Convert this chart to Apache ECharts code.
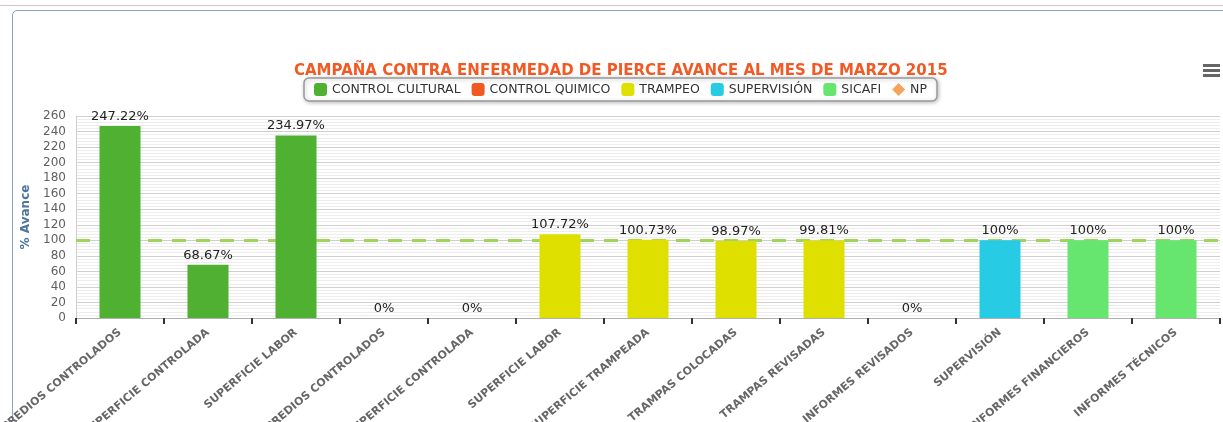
<!DOCTYPE html>
<html>
<head>
<meta charset="utf-8">
<script src="https://cdn.jsdelivr.net/npm/echarts@6/dist/echarts.min.js"></script>
<style>
html, body { margin: 0; padding: 0; background: #fff; }
.topline { position: absolute; left: 0; top: 5px; width: 1223px; height: 1px; background: #c8c8c8; }
.panel {
    position: absolute; left: 12px; top: 10px; width: 1230px; height: 440px;
    border: 1px solid #8aa2c4; border-radius: 5px; box-sizing: border-box;
}
#main { position: absolute; left: 0; top: 0; width: 1223px; height: 422px; }
</style>
</head>
<body>
<div class="topline"></div>
<div class="panel"></div>
<div id="main"></div>
<script>
// categorias del eje x
var categorias = [
    'PREDIOS CONTROLADOS', 'SUPERFICIE CONTROLADA', 'SUPERFICIE LABOR',
    'PREDIOS CONTROLADOS', 'SUPERFICIE CONTROLADA', 'SUPERFICIE LABOR',
    'SUPERFICIE TRAMPEADA', 'TRAMPAS COLOCADAS', 'TRAMPAS REVISADAS',
    'INFORMES REVISADOS', 'SUPERVISIÓN', 'INFORMES FINANCIEROS', 'INFORMES TÉCNICOS'
];
// avance por serie (null = no aplica)
var controlCultural = [247.22, 68.67, 234.97, null, null, null, null, null, null, null, null, null, null];
var controlQuimico  = [null, null, null, 0, 0, null, null, null, null, null, null, null, null];
var trampeo         = [null, null, null, null, null, 107.72, 100.73, 98.97, 99.81, 0, null, null, null];
var supervision     = [null, null, null, null, null, null, null, null, null, null, 100, null, null];
var sicafi          = [null, null, null, null, null, null, null, null, null, null, null, 100, 100];
var meta = 100;

var myChart = echarts.init(document.getElementById('main'));

var etiqueta = {
    show: true,
    position: 'top',
    distance: 3,
    color: '#222',
    fontSize: 13,
    fontFamily: 'DejaVu Sans',
    formatter: function (p) { return p.value + '%'; }
};

function barra(nombre, datos, color) {
    return {
        name: nombre,
        type: 'bar',
        data: datos,
        barWidth: 41,
        barGap: '-100%',
        zlevel: 1,
        itemStyle: { color: color },
        label: etiqueta
    };
}

myChart.setOption({
    textStyle: { fontFamily: 'DejaVu Sans' },
    title: {
        text: 'CAMPAÑA CONTRA ENFERMEDAD DE PIERCE AVANCE AL MES DE MARZO 2015',
        left: 289,
        top: 59,
        textStyle: { color: '#f15a24', fontSize: 15, fontWeight: 'bold', fontFamily: 'DejaVu Sans' }
    },
    legend: {
        top: 78,
        left: 304,
        itemWidth: 13,
        itemHeight: 13,
        itemGap: 11,
        padding: [5, 10],
        borderColor: '#999',
        borderWidth: 1.5,
        borderRadius: 5,
        shadowColor: 'rgba(0,0,0,0.25)',
        shadowBlur: 4,
        shadowOffsetX: 1,
        shadowOffsetY: 1,
        backgroundColor: '#fff',
        textStyle: { color: '#333', fontSize: 12.5 },
        data: [
            { name: 'CONTROL CULTURAL', icon: 'roundRect' },
            { name: 'CONTROL QUIMICO', icon: 'roundRect' },
            { name: 'TRAMPEO', icon: 'roundRect' },
            { name: 'SUPERVISIÓN', icon: 'roundRect' },
            { name: 'SICAFI', icon: 'roundRect' },
            { name: 'NP', icon: 'diamond' }
        ]
    },
    grid: { left: 76, right: 3, top: 116, bottom: 104, outerBoundsMode: 'none' },
    xAxis: {
        type: 'category',
        data: categorias,
        axisLine: { lineStyle: { color: '#b0b0b0', width: 1 } },
        axisTick: { show: true, length: 6, lineStyle: { color: '#333', width: 2 } },
        axisLabel: {
            interval: 0,
            rotate: 40,
            margin: 13,
            color: '#666',
            fontSize: 11,
            fontWeight: 'bold'
        }
    },
    yAxis: {
        type: 'value',
        min: 0,
        max: 260,
        interval: 20,
        name: '% Avance',
        nameLocation: 'middle',
        nameGap: 34,
        nameTextStyle: { color: '#4d759e', fontWeight: 'bold', fontSize: 12 },
        axisLine: { show: true, lineStyle: { color: '#d0d0d0' } },
        axisLabel: { color: '#606060', fontSize: 12, margin: 10 },
        splitLine: { lineStyle: { color: '#d0d0d0' } },
        minorTick: { show: false, splitNumber: 5 },
        minorSplitLine: { show: true, lineStyle: { color: '#ededed' } }
    },
    series: [
        barra('CONTROL CULTURAL', controlCultural, '#50b032'),
        barra('CONTROL QUIMICO', controlQuimico, '#f05a22'),
        barra('TRAMPEO', trampeo, '#dfe000'),
        barra('SUPERVISIÓN', supervision, '#27cbe3'),
        barra('SICAFI', sicafi, '#66e56f'),
        {
            name: 'NP',
            type: 'line',
            data: [],
            symbol: 'diamond',
            itemStyle: { color: '#f7a35c' },
            markLine: {
                silent: true,
                symbol: 'none',
                label: { show: false },
                lineStyle: { color: '#9ed65b', width: 3, type: [14, 10] },
                data: [{ yAxis: meta }]
            }
        }
    ],
    graphic: [
        { type: 'rect', left: 1203, top: 64, shape: { width: 17, height: 3 }, style: { fill: '#666' } },
        { type: 'rect', left: 1203, top: 69, shape: { width: 17, height: 3 }, style: { fill: '#666' } },
        { type: 'rect', left: 1203, top: 74, shape: { width: 17, height: 3 }, style: { fill: '#666' } }
    ]
});
</script>
</body>
</html>
